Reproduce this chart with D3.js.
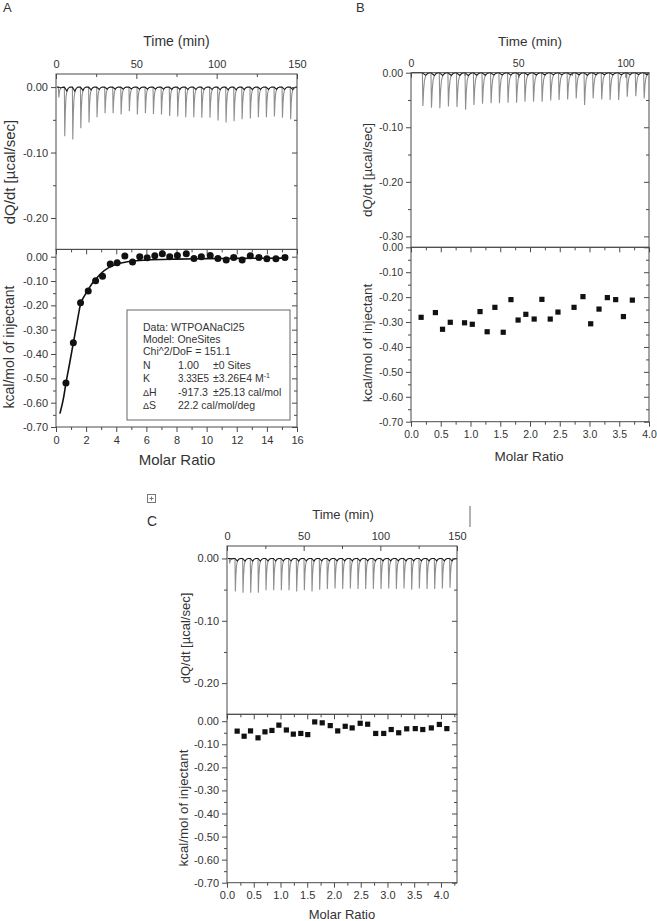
<!DOCTYPE html>
<html><head><meta charset="utf-8">
<script src="https://cdn.jsdelivr.net/npm/d3@7"></script>
<style>
body{margin:0;background:#fff}
svg{display:block}
text{font-family:"Liberation Sans",Arial,sans-serif;fill:#333}
</style>
</head><body>
<svg id="chart" width="657" height="921"></svg>
<script>
// ---------------- DATA ----------------
// Panel A – raw thermogram (injection time in min, peak depth in µcal/sec)
const injTimeA = [1.5,5.2,10.2,15.2,20.3,25.3,30.3,35.3,40.3,45.4,50.4,55.4,60.4,65.4,70.5,75.5,80.5,85.5,90.5,95.6,100.6,105.6,110.6,115.6,120.7,125.7,130.7,135.7,140.7,145.8];
const peakA = [-0.016,-0.075,-0.080,-0.063,-0.054,-0.046,-0.040,-0.040,-0.042,-0.037,-0.042,-0.040,-0.041,-0.042,-0.044,-0.045,-0.046,-0.046,-0.047,-0.047,-0.051,-0.054,-0.052,-0.049,-0.048,-0.046,-0.046,-0.045,-0.047,-0.049];
// Panel A – integrated heats
const ratioA = [0.66,1.15,1.63,2.14,2.63,3.09,3.60,4.06,4.57,5.08,5.56,6.05,6.56,7.06,7.55,8.06,8.65,9.16,9.65,10.24,10.75,11.30,11.80,12.36,12.90,13.47,14.00,14.60,15.20];
const heatA = [-0.519,-0.354,-0.189,-0.141,-0.099,-0.080,-0.030,-0.025,0.003,-0.022,0.000,-0.004,0.004,0.012,0.000,0.005,0.012,-0.007,0.000,0.005,-0.007,-0.014,-0.003,-0.014,0.004,-0.003,-0.008,-0.008,-0.003];
// Panel A – fitted curve
const fitRatioA = [0.26,0.5,0.66,0.9,1.15,1.4,1.63,1.9,2.14,2.4,2.63,3.0,3.5,4.0,4.5,5.0,6.0,8.0,10.0,12.0,15.2];
const fitHeatA = [-0.645,-0.58,-0.52,-0.44,-0.355,-0.27,-0.195,-0.16,-0.135,-0.11,-0.093,-0.068,-0.045,-0.031,-0.024,-0.019,-0.014,-0.010,-0.008,-0.007,-0.006];
const legendA = ["Data: WTPOANaCl25","Model: OneSites","Chi^2/DoF = 151.1"];
const paramNames = ["N","K","ΔH","ΔS"];
const paramValues = ["1.00","3.33E5","-917.3","22.2 cal/mol/deg"];
const paramErrors = ["±0 Sites","±3.26E4 M","±25.13 cal/mol",""];

// Panel B
const injTimeB = [5.3,9.3,13.2,17.2,21.2,25.2,29.1,33.1,37.1,41.0,45.0,49.0,52.9,56.9,60.9,64.9,68.8,72.8,76.8,80.7,84.7,88.7,92.6,96.6,100.6,104.6,108.5];
const peakB = [-0.061,-0.064,-0.065,-0.062,-0.063,-0.068,-0.059,-0.057,-0.056,-0.056,-0.055,-0.055,-0.053,-0.053,-0.053,-0.051,-0.050,-0.049,-0.047,-0.059,-0.047,-0.049,-0.050,-0.050,-0.044,-0.043,-0.047];
const ratioB = [0.17,0.41,0.53,0.66,0.90,1.03,1.16,1.28,1.41,1.55,1.68,1.80,1.93,2.07,2.20,2.34,2.47,2.74,2.89,3.02,3.16,3.30,3.44,3.57,3.72];
const heatB = [-0.281,-0.262,-0.329,-0.301,-0.303,-0.309,-0.258,-0.339,-0.241,-0.341,-0.210,-0.292,-0.269,-0.288,-0.209,-0.288,-0.260,-0.241,-0.198,-0.307,-0.248,-0.202,-0.210,-0.278,-0.212];

// Panel C
const injTimeC = [1.5,5.2,10.2,15.2,20.2,25.2,30.2,35.2,40.2,45.2,50.2,55.2,60.2,65.2,70.2,75.2,80.2,85.2,90.2,95.2,100.2,105.2,110.2,115.2,120.2,125.2,130.2,135.2,140.2,145.2];
const peakC = [-0.008,-0.053,-0.055,-0.055,-0.055,-0.051,-0.051,-0.051,-0.051,-0.053,-0.051,-0.053,-0.050,-0.049,-0.048,-0.049,-0.048,-0.049,-0.049,-0.049,-0.049,-0.048,-0.049,-0.048,-0.050,-0.048,-0.049,-0.049,-0.048,-0.047];
const ratioC = [0.19,0.32,0.44,0.58,0.71,0.84,0.97,1.11,1.24,1.38,1.51,1.64,1.78,1.93,2.07,2.21,2.34,2.49,2.63,2.78,2.93,3.07,3.21,3.36,3.52,3.66,3.82,3.97,4.11];
const heatC = [-0.043,-0.065,-0.042,-0.072,-0.046,-0.040,-0.017,-0.038,-0.056,-0.053,-0.058,-0.003,-0.007,-0.019,-0.042,-0.022,-0.029,-0.009,-0.013,-0.053,-0.053,-0.036,-0.050,-0.033,-0.032,-0.036,-0.029,-0.014,-0.032];

// Shape of one injection spike (minutes after injection, fraction of depth)
const spikeT = [0,0.25,0.6,1.0,1.6,2.4,3.5];
const spikeF = [0,1,0.5,0.22,0.08,0.025,0];

// Tick values
const powerTicksA = [0,-0.1,-0.2], powerMinorA = [-0.05,-0.15];
const powerTicksB = [0,-0.1,-0.2,-0.3], powerMinorB = [-0.05,-0.15,-0.25];
const heatTicks = [0,-0.1,-0.2,-0.3,-0.4,-0.5,-0.6,-0.7];
const heatMinor = [-0.05,-0.15,-0.25,-0.35,-0.45,-0.55,-0.65];
const timeTicks150 = [0,50,100,150], timeMinor150 = [25,75,125];
const timeTicksB = [0,50,100], timeMinorB = [25,75];
const ratioTicksA = [0,2,4,6,8,10,12,14,16], ratioMinorA = [1,3,5,7,9,11,13,15];
const ratioTicks4 = [0,0.5,1,1.5,2,2.5,3,3.5,4], ratioMinor4 = [0.25,0.75,1.25,1.75,2.25,2.75,3.25,3.75];
const ratioMinorC = [0.25,0.75,1.25,1.75,2.25,2.75,3.25,3.75,4.25];

// ---------------- DRAWING ----------------
const svg = d3.select('#chart');
const AX = '#4a4a4a', TXT = '#2e2e2e';
const fmt2 = d => (Math.abs(d) < 1e-9 ? 0 : d).toFixed(2);
const fmt1 = d => d.toFixed(1);
const fmt0 = d => String(d);

function styleAxis(sel, fs) {
  sel.attr('color', AX).attr('font-family', null).attr('font-size', fs);
  sel.selectAll('text').attr('fill', TXT);
  sel.select('.domain').remove();
}

function subplot(x, y, c) {
  const [x0, x1] = x.range();
  const [yb, yt] = y.range();
  const g = svg.append('g');
  const fs = c.fs;
  g.append('g').attr('transform', `translate(${x0},0)`)
    .call(d3.axisLeft(y).tickValues(c.yMajor).tickSize(5).tickPadding(3).tickFormat(fmt2)).call(styleAxis, fs);
  g.append('g').attr('transform', `translate(${x0},0)`)
    .call(d3.axisLeft(y).tickValues(c.yMinor).tickSize(3).tickFormat('')).call(styleAxis, fs);
  g.append('g').attr('transform', `translate(${x1},0)`)
    .call(d3.axisRight(y).tickValues(c.yMajor).tickSize(-5).tickFormat('')).call(styleAxis, fs);
  g.append('g').attr('transform', `translate(${x1},0)`)
    .call(d3.axisRight(y).tickValues(c.yMinor).tickSize(-3).tickFormat('')).call(styleAxis, fs);
  if (c.xSide === 'top') {
    g.append('g').attr('transform', `translate(0,${yt})`)
      .call(d3.axisTop(x).tickValues(c.xMajor).tickSize(-5).tickPadding(6).tickFormat(c.xFmt)).call(styleAxis, fs);
    g.append('g').attr('transform', `translate(0,${yt})`)
      .call(d3.axisTop(x).tickValues(c.xMinor).tickSize(-3).tickFormat('')).call(styleAxis, fs);
  } else {
    g.append('g').attr('transform', `translate(0,${yb})`)
      .call(d3.axisBottom(x).tickValues(c.xMajor).tickSize(5).tickPadding(4).tickFormat(c.xFmt)).call(styleAxis, fs);
    g.append('g').attr('transform', `translate(0,${yb})`)
      .call(d3.axisBottom(x).tickValues(c.xMinor).tickSize(3).tickFormat('')).call(styleAxis, fs);
    g.append('g').attr('transform', `translate(0,${yt})`)
      .call(d3.axisTop(x).tickValues(c.xMajor).tickSize(-5).tickFormat('')).call(styleAxis, fs);
    g.append('g').attr('transform', `translate(0,${yt})`)
      .call(d3.axisTop(x).tickValues(c.xMinor).tickSize(-3).tickFormat('')).call(styleAxis, fs);
  }
  g.append('rect').attr('x', x0).attr('y', yt).attr('width', x1 - x0).attr('height', yb - yt)
    .attr('fill', 'none').attr('stroke', AX).attr('stroke-width', 1);
  return g;
}

function thermogram(x, y, times, peaks) {
  const [tMin, tMax] = x.domain();
  const line = d3.line().x(d => x(d[0])).y(d => y(d[1]));
  const spikes = times.map((t, i) => spikeT.slice(0, 5).map((s, k) => [t + s, peaks[i] * spikeF[k]]));
  svg.append('path').attr('d', spikes.map(s => line(s)).join(''))
    .attr('fill', 'none').attr('stroke', '#8e8e8e').attr('stroke-width', 1.1);
  const base = [[tMin + 0.5, 0], [times[0], 0]];
  times.forEach((t, i) => {
    const next = i + 1 < times.length ? times[i + 1] : tMax;
    for (let k = 4; k < spikeT.length; k++) base.push([t + spikeT[k], peaks[i] * spikeF[k]]);
    base.push([Math.min(next, tMax), 0]);
  });
  svg.append('path').attr('d', line(base.filter(d => d[0] <= tMax)))
    .attr('fill', 'none').attr('stroke', '#1a1a1a').attr('stroke-width', 1.1);
}

function txt(x, y, s, fs, anchor, rot) {
  const t = svg.append('text').attr('font-size', fs).attr('text-anchor', anchor || 'middle').text(s);
  if (rot) t.attr('transform', `translate(${x},${y}) rotate(-90)`);
  else t.attr('x', x).attr('y', y);
  return t;
}

// ===== Panel A =====
{
  const xT = d3.scaleLinear().domain([0, 150]).range([56, 297]);
  const yP = d3.scaleLinear().domain([-0.248, 0.02]).range([249.4, 74]);
  const xR = d3.scaleLinear().domain([0, 16]).range([56, 297]);
  const yH = d3.scaleLinear().domain([-0.70, 0.03]).range([427, 249.4]);
  thermogram(xT, yP, injTimeA, peakA);
  subplot(xT, yP, {yMajor: powerTicksA, yMinor: powerMinorA, xMajor: timeTicks150, xMinor: timeMinor150, xSide: 'top', xFmt: fmt0, fs: 11});
  subplot(xR, yH, {yMajor: heatTicks, yMinor: heatMinor, xMajor: ratioTicksA, xMinor: ratioMinorA, xSide: 'bottom', xFmt: fmt0, fs: 11});
  svg.append('path').datum(fitRatioA.map((r, i) => [r, fitHeatA[i]]))
    .attr('d', d3.line().x(d => xR(d[0])).y(d => yH(d[1])).curve(d3.curveMonotoneX))
    .attr('fill', 'none').attr('stroke', '#111').attr('stroke-width', 1.6);
  svg.append('g').selectAll('circle').data(ratioA).join('circle')
    .attr('cx', d => xR(d)).attr('cy', (d, i) => yH(heatA[i])).attr('r', 3.5).attr('fill', '#111');
  // legend box
  svg.append('rect').attr('x', 127).attr('y', 310).attr('width', 163).attr('height', 110)
    .attr('fill', '#fff').attr('stroke', '#666').attr('stroke-width', 1);
  const lg = [331, 343, 355];
  legendA.forEach((s, i) => txt(143, lg[i], s, 10.5, 'start'));
  const pr = [369, 382, 396, 409];
  const valLen = [21, 31, 30, null];
  paramNames.forEach((s, i) => {
    const t = svg.append('text').attr('x', 143).attr('y', pr[i]).attr('font-size', 10.5);
    if (s[0] === 'Δ') { t.append('tspan').attr('font-size', 9).text('Δ'); t.append('tspan').text(s.slice(1)); }
    else t.text(s);
    const v = txt(178, pr[i], paramValues[i], 10.5, 'start');
    if (valLen[i]) v.attr('textLength', valLen[i]).attr('lengthAdjust', 'spacingAndGlyphs');
    if (paramErrors[i]) {
      const e = txt(213, pr[i], paramErrors[i], 10.5, 'start');
      if (i === 1) e.append('tspan').attr('font-size', 7).attr('dy', -4).text('-1');
    }
  });
  txt(3, 12, 'A', 13, 'start');
  txt(176.5, 46, 'Time (min)', 14);
  txt(177, 465, 'Molar Ratio', 15);
  txt(15, 172, 'dQ/dt [µcal/sec]', 15, 'middle', true);
  txt(14, 347, 'kcal/mol of injectant', 14, 'middle', true);
}

// ===== Panel B =====
{
  const xT = d3.scaleLinear().domain([0, 111]).range([411, 649]);
  const yP = d3.scaleLinear().domain([-0.32, 0.0]).range([247.3, 72.7]);
  const xR = d3.scaleLinear().domain([0, 4]).range([411, 649]);
  const yH = d3.scaleLinear().domain([-0.70, 0.0]).range([421.7, 247.3]);
  thermogram(xT, yP, injTimeB, peakB);
  subplot(xT, yP, {yMajor: powerTicksB, yMinor: powerMinorB, xMajor: timeTicksB, xMinor: timeMinorB, xSide: 'top', xFmt: fmt0, fs: 10.5});
  subplot(xR, yH, {yMajor: heatTicks, yMinor: heatMinor, xMajor: ratioTicks4, xMinor: ratioMinor4, xSide: 'bottom', xFmt: fmt1, fs: 10.5});
  svg.append('g').selectAll('rect').data(ratioB).join('rect')
    .attr('x', d => xR(d) - 2.6).attr('y', (d, i) => yH(heatB[i]) - 2.6).attr('width', 5.2).attr('height', 5.2).attr('fill', '#111');
  txt(356, 12, 'B', 13, 'start');
  txt(530, 46, 'Time (min)', 13.5);
  txt(529, 461, 'Molar Ratio', 13.5);
  txt(372, 170, 'dQ/dt [µcal/sec]', 13.5, 'middle', true);
  txt(372, 343, 'kcal/mol of injectant', 13.5, 'middle', true);
}

// ===== Panel C =====
{
  const xT = d3.scaleLinear().domain([0, 150]).range([227, 457]);
  const yP = d3.scaleLinear().domain([-0.25, 0.02]).range([714.3, 546]);
  const xR = d3.scaleLinear().domain([0, 4.3]).range([227, 457]);
  const yH = d3.scaleLinear().domain([-0.70, 0.03]).range([882.7, 714.3]);
  thermogram(xT, yP, injTimeC, peakC);
  subplot(xT, yP, {yMajor: powerTicksA, yMinor: powerMinorA, xMajor: timeTicks150, xMinor: timeMinor150, xSide: 'top', xFmt: fmt0, fs: 11});
  subplot(xR, yH, {yMajor: heatTicks, yMinor: heatMinor, xMajor: ratioTicks4, xMinor: ratioMinorC, xSide: 'bottom', xFmt: fmt1, fs: 11});
  svg.append('g').selectAll('rect').data(ratioC).join('rect')
    .attr('x', d => xR(d) - 2.6).attr('y', (d, i) => yH(heatC[i]) - 2.6).attr('width', 5.2).attr('height', 5.2).attr('fill', '#111');
  txt(147, 526, 'C', 14, 'start');
  txt(343, 519, 'Time (min)', 13);
  txt(342, 919, 'Molar Ratio', 13);
  txt(190, 638, 'dQ/dt [µcal/sec]', 13, 'middle', true);
  txt(188, 808, 'kcal/mol of injectant', 13.3, 'middle', true);
  svg.append('line').attr('x1', 470).attr('x2', 470).attr('y1', 506).attr('y2', 527).attr('stroke', '#666').attr('stroke-width', 1);
  svg.append('rect').attr('x', 147.5).attr('y', 494.5).attr('width', 8).attr('height', 8).attr('fill', 'none').attr('stroke', '#777');
  svg.append('path').attr('d', 'M151.5,496.5V500.5M149.5,498.5H153.5').attr('stroke', '#777');
}
</script>
</body></html>
